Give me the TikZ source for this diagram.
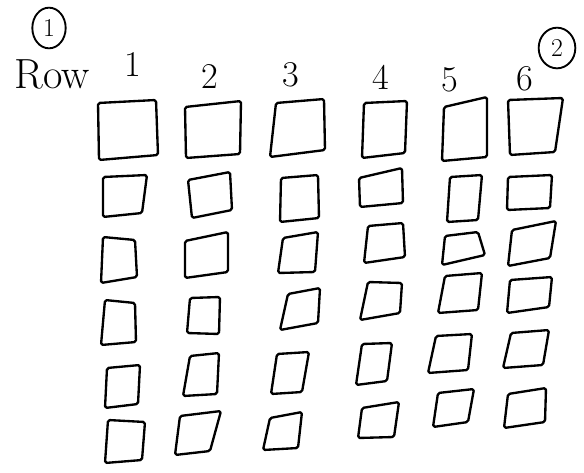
\documentclass[tikz,border=0pt]{standalone}
\usepackage{tikz}
\usetikzlibrary{shapes.geometric}

\tikzset{
  box/.style={draw=black, line width=2pt, line join=round, rounded corners=1.5pt},
  hand/.style={font=\fontsize{31}{35}\selectfont, inner sep=0pt},
  circmark/.style={draw=black, line width=1.6pt, ellipse, inner sep=0pt, font=\fontsize{22}{24}\selectfont}
}

\begin{document}
\begin{tikzpicture}[x=0.03cm, y=-0.03cm]
        \useasboundingbox (0,0) rectangle (584,473);

        \node (m1) at ( 49, 28) [circmark, minimum width=1.0cm, minimum height=1.22cm] {1};
        \node (m2) at (557, 48) [circmark, minimum width=1.1cm, minimum height=1.22cm] {2};

        \node (row) at ( 52, 74) [hand, font=\fontsize{36}{40}\selectfont] {Row};
        \node (c1) at (133, 64) [hand] {1};
        \node (c2) at (210, 76) [hand] {2};
        \node (c3) at (291, 75) [hand] {3};
        \node (c4) at (381, 77) [hand] {4};
        \node (c5) at (450, 80) [hand] {5};
        \node (c6) at (525, 79) [hand] {6};

        \draw[box] ( 98,103) -- (156,100) -- (158,155) -- ( 99,160) -- cycle;
        \draw[box] (185,107) -- (241,101) -- (240,154) -- (186,158) -- cycle;
        \draw[box] (276,103) -- (324, 99) -- (325,150) -- (270,157) -- cycle;
        \draw[box] (364,103) -- (407,101) -- (405,153) -- (362,158) -- cycle;
        \draw[box] (444,107) -- (487, 97) -- (487,157) -- (442,161) -- cycle;
        \draw[box] (508,100) -- (563, 98) -- (555,152) -- (510,155) -- cycle;

        \draw[box] (103,177) -- (147,175) -- (142,213) -- (103,217) -- cycle;
        \draw[box] (188,180) -- (230,172) -- (232,210) -- (192,218) -- cycle;
        \draw[box] (281,178) -- (318,175) -- (319,218) -- (280,222) -- cycle;
        \draw[box] (359,178) -- (402,168) -- (403,203) -- (360,207) -- cycle;
        \draw[box] (450,177) -- (482,175) -- (478,220) -- (447,222) -- cycle;
        \draw[box] (508,177) -- (552,175) -- (550,208) -- (507,210) -- cycle;

        \draw[box] (103,237) -- (135,240) -- (137,277) -- (101,283) -- cycle;
        \draw[box] (185,241) -- (228,232) -- (228,272) -- (185,278) -- cycle;
        \draw[box] (283,238) -- (318,232) -- (315,272) -- (278,273) -- cycle;
        \draw[box] (368,226) -- (403,223) -- (405,257) -- (364,263) -- cycle;
        \draw[box] (445,236) -- (478,232) -- (485,255) -- (442,265) -- cycle;
        \draw[box] (512,230) -- (556,221) -- (550,258) -- (508,266) -- cycle;

        \draw[box] (105,300) -- (135,303) -- (136,342) -- (101,345) -- cycle;
        \draw[box] (190,298) -- (220,297) -- (219,334) -- (187,333) -- cycle;
        \draw[box] (288,294) -- (320,288) -- (318,323) -- (280,330) -- cycle;
        \draw[box] (368,282) -- (402,283) -- (400,313) -- (360,320) -- cycle;
        \draw[box] (445,276) -- (482,273) -- (478,310) -- (438,313) -- cycle;
        \draw[box] (510,280) -- (552,277) -- (549,307) -- (507,313) -- cycle;

        \draw[box] (107,368) -- (140,365) -- (138,404) -- (105,408) -- cycle;
        \draw[box] (190,356) -- (219,353) -- (217,394) -- (183,396) -- cycle;
        \draw[box] (277,354) -- (309,352) -- (302,392) -- (271,394) -- cycle;
        \draw[box] (362,344) -- (392,343) -- (387,381) -- (356,385) -- cycle;
        \draw[box] (436,336) -- (472,334) -- (468,370) -- (428,373) -- cycle;
        \draw[box] (511,333) -- (549,330) -- (543,365) -- (503,368) -- cycle;

        \draw[box] (108,420) -- (145,422) -- (142,460) -- (105,463) -- cycle;
        \draw[box] (180,416) -- (221,411) -- (210,451) -- (175,455) -- cycle;
        \draw[box] (270,418) -- (302,412) -- (298,448) -- (263,450) -- cycle;
        \draw[box] (362,408) -- (399,402) -- (394,437) -- (358,438) -- cycle;
        \draw[box] (438,393) -- (474,389) -- (468,422) -- (433,427) -- cycle;
        \draw[box] (508,394) -- (546,388) -- (545,422) -- (504,428) -- cycle;
    \end{tikzpicture}
\end{document}
